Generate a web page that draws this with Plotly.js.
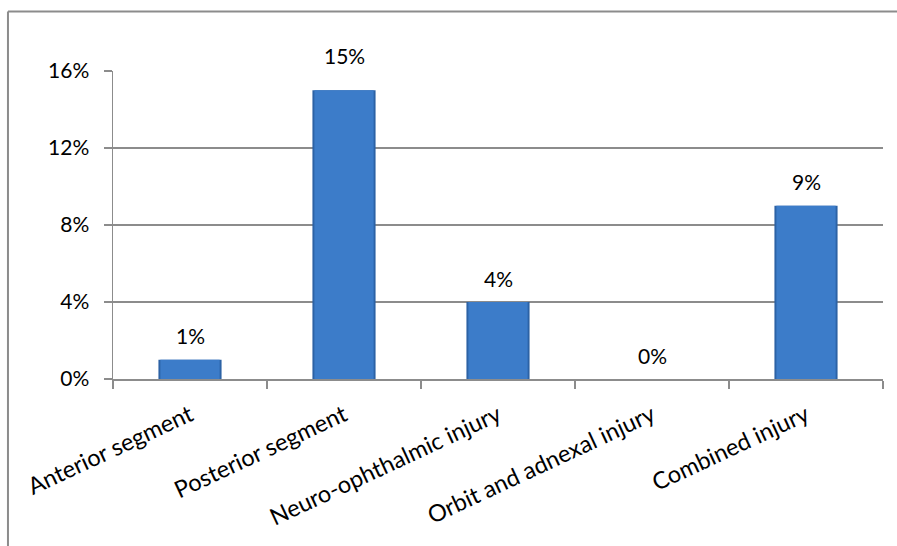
<!DOCTYPE html>
<html>
<head>
<meta charset="utf-8">
<script src="https://cdn.plot.ly/plotly-3.0.1.min.js"></script>
<style>html,body{margin:0;padding:0;background:#fff;}#chart{width:897px;height:546px;}</style>
</head>
<body>
<div id="chart"></div>
<script>
const categories = ["Anterior segment", "Posterior segment", "Neuro-ophthalmic injury", "Orbit and adnexal injury", "Combined injury"];
const values = [0.01, 0.15, 0.04, 0.00, 0.09];
const valueLabels = ["1%", "15%", "4%", "0%", "9%"];
const yTicks = [0, 0.04, 0.08, 0.12, 0.16];
const yTickLabels = ["0%", "4%", "8%", "12%", "16%"];

const FONT = "Lato, 'Open Sans', sans-serif";

const baseTrace = {
  type: "bar",
  x: categories,
  y: values,
  width: 0.41,
  marker: { color: "#2c62a5", line: { width: 0 } },
  hoverinfo: "none"
};
const innerTrace = {
  type: "bar",
  x: categories,
  y: values,
  width: 0.385,
  marker: { color: "#3c7cc9", line: { width: 0 } },
  hoverinfo: "none"
};

const annotations = categories.map((c, i) => ({
  x: c, y: values[i], text: valueLabels[i],
  xref: "x", yref: "y", showarrow: false,
  yanchor: "middle", yshift: values[i] > 0.14 ? 35 : 24,
  font: { family: FONT, size: 21, color: "#000" }
}));

const shapes = [
  { type: "line", xref: "paper", yref: "paper", x0: -0.1364, x1: 1.05, y0: 1.1932, y1: 1.1932, line: { color: "#8c8c8c", width: 2 } },
  { type: "line", xref: "paper", yref: "paper", x0: -0.1364, x1: -0.1364, y0: 1.1932, y1: -0.6, line: { color: "#8c8c8c", width: 2 } }
];

const layout = {
  width: 897, height: 546,
  margin: { l: 113, r: 14, t: 71, b: 167, pad: 0 },
  paper_bgcolor: "#fff", plot_bgcolor: "#fff",
  showlegend: false,
  barmode: "overlay",
  font: { family: FONT, size: 21, color: "#000" },
  xaxis: {
    type: "category",
    tickson: "boundaries",
    ticks: "outside", ticklen: 8, tickcolor: "#8c8c8c", tickwidth: 1.5,
    showline: true, linecolor: "#8c8c8c", linewidth: 1.5,
    showgrid: false,
    tickangle: -25,
    tickfont: { family: FONT, size: 23.5, color: "#000" },
    ticklabelstandoff: 12,
    range: [-0.5, 4.5]
  },
  yaxis: {
    range: [0, 0.16],
    tickvals: yTicks, ticktext: yTickLabels,
    ticks: "outside", ticklen: 8, tickcolor: "#8c8c8c", tickwidth: 1.5,
    showline: true, linecolor: "#8c8c8c", linewidth: 1.5,
    showgrid: true, gridcolor: "#8c8c8c", gridwidth: 1.5,
    zeroline: false,
    tickfont: { family: FONT, size: 21, color: "#000" },
    ticklabelstandoff: 10
  },
  annotations: annotations,
  shapes: shapes
};

Plotly.newPlot("chart", [baseTrace, innerTrace], layout, { displayModeBar: false, staticPlot: true });
</script>
</body>
</html>
